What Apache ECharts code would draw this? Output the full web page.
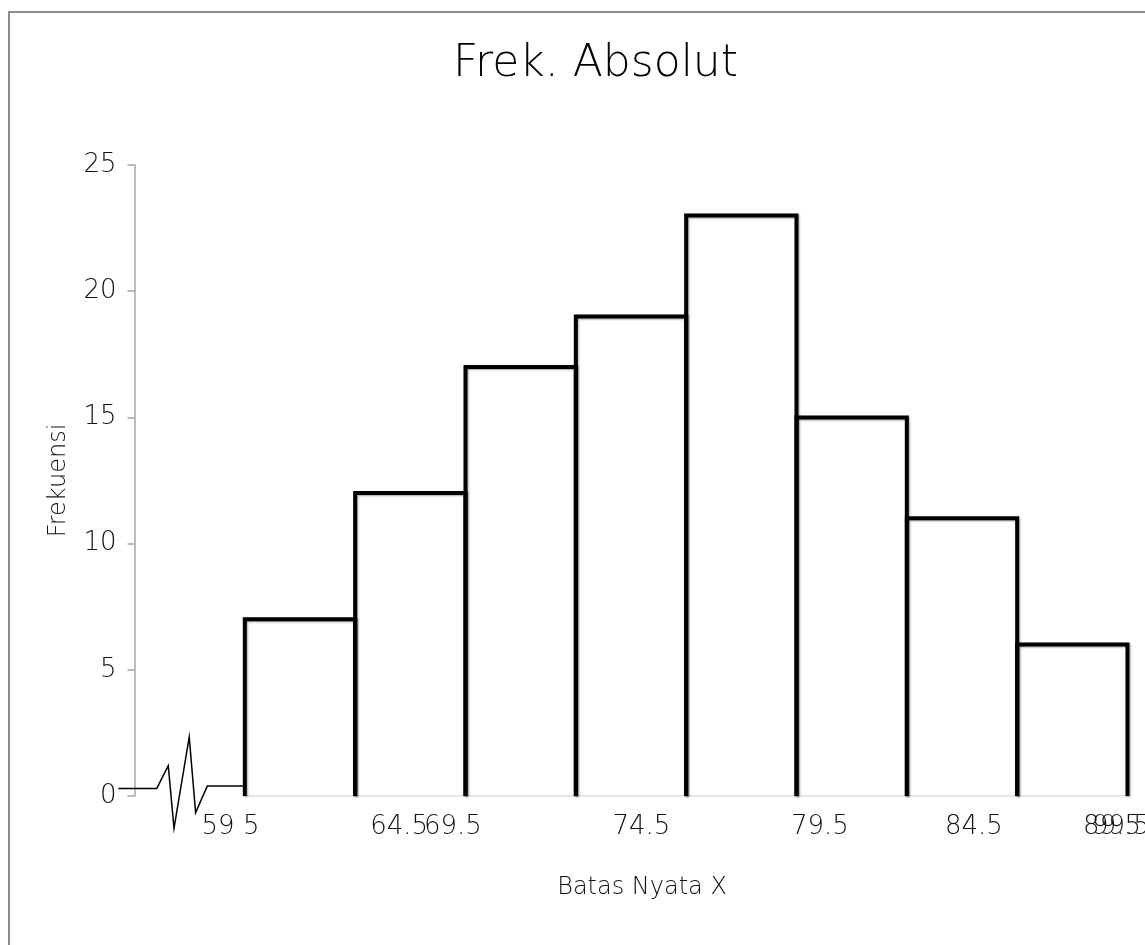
<!DOCTYPE html>
<html>
<head>
<meta charset="utf-8">
<script src="https://cdn.jsdelivr.net/npm/echarts@6.0.0/dist/echarts.min.js"></script>
<style>
  html, body { margin: 0; padding: 0; background: #fff; overflow: hidden; }
  #chart { width: 1145px; height: 945px; }
  #frame { position: absolute; left: 8px; top: 11px; width: 3000px; height: 3000px;
           border-left: 2px solid #8c8c8c; border-top: 2px solid #8c8c8c; pointer-events: none; }
</style>
</head>
<body>
<div id="chart"></div>
<div id="frame"></div>
<script>
// class boundaries (batas nyata) and absolute frequency per class
const edges = [59.5, 64.5, 69.5, 74.5, 79.5, 84.5, 89.5, 94.5, 99.5];
const freqs = [7, 12, 17, 19, 23, 15, 11, 6];

// x tick labels as they appear, and where they sit on the x scale
const tickLabels = ['59 5', '64.5', '69.5', '74.5', '79.5', '84.5', '89.5', '99.5'];
const labelAt = [58.85, 66.49, 68.93, 77.47, 85.56, 92.54, 98.8, 99.2];

// axis break zigzag drawn left of the first class
const breakX = [53.77, 55.51, 56.03, 56.29, 56.98, 57.27, 57.8, 59.43];
const breakY = [0.3, 0.3, 1.2, -1.28, 2.34, -0.66, 0.4, 0.4];

const font = 'DejaVu Sans';
const bins = freqs.map((f, i) => [edges[i], edges[i + 1], f]);
const labelFor = (v) => {
  let best = 0;
  labelAt.forEach((p, i) => { if (Math.abs(p - v) < Math.abs(labelAt[best] - v)) best = i; });
  return tickLabels[best];
};
const tickText = { margin: 18, fontFamily: font, fontWeight: 200, fontSize: 26, color: '#111' };

// the last label overlaps the one before it, so it gets its own (twin) axis
const xBase = {
  type: 'value',
  min: 54.5,
  max: 100.5,
  offset: 0,
  axisLine: { show: false },
  axisTick: { show: false },
  splitLine: { show: false }
};

const chart = echarts.init(document.getElementById('chart'));

chart.setOption({
  animation: false,
  title: {
    text: 'Frek. Absolut',
    left: 448,
    top: 38,
    textStyle: { fontFamily: font, fontWeight: 200, fontSize: 44, color: '#000' }
  },
  grid: { left: 134.5, right: -4.57, top: 165, bottom: 149, outerBoundsMode: 'none' },
  xAxis: [
    Object.assign({}, xBase, {
      name: 'Batas Nyata X',
      nameLocation: 'middle',
      nameGap: 80,
      nameTextStyle: { fontFamily: font, fontWeight: 200, fontSize: 24, color: '#111' },
      axisLabel: Object.assign({
        customValues: labelAt.slice(0, -1),
        hideOverlap: false, showMinLabel: true, showMaxLabel: true,
        formatter: labelFor
      }, tickText)
    }),
    Object.assign({}, xBase, {
      position: 'bottom',
      axisLabel: Object.assign({
        customValues: labelAt.slice(-1),
        hideOverlap: false, showMinLabel: true, showMaxLabel: true,
        formatter: labelFor
      }, tickText)
    })
  ],
  yAxis: {
    type: 'value',
    min: 0,
    max: 25,
    interval: 5,
    name: 'Frekuensi',
    nameLocation: 'middle',
    nameGap: 64,
    nameTextStyle: { fontFamily: font, fontWeight: 200, fontSize: 24, color: '#111' },
    axisLine: { show: true, lineStyle: { color: '#a6a6a6', width: 1.5 } },
    axisTick: { show: true, length: 7, lineStyle: { color: '#a6a6a6', width: 1.5 } },
    splitLine: { show: false },
    axisLabel: tickText
  },
  series: [
    {
      type: 'line',
      data: [[edges[0], 0], [edges[edges.length - 1], 0]],
      symbol: 'none',
      lineStyle: { color: '#d9d9d9', width: 1.5 },
      z: 1
    },
    {
      // break symbol, drawn once from the whole path
      type: 'custom',
      data: [[breakX[0], breakY[0]]],
      clip: false,
      z: 3,
      renderItem: (params, api) => ({
        type: 'polyline',
        shape: { points: breakX.map((x, i) => api.coord([x, breakY[i]])) },
        style: { fill: null, stroke: '#000', lineWidth: 1.5 }
      })
    },
    {
      type: 'custom',
      data: bins,
      encode: { x: [0, 1], y: 2 },
      clip: false,
      z: 2,
      renderItem: (params, api) => {
        const x0 = api.value(0), x1 = api.value(1), v = api.value(2);
        return {
          type: 'polyline',
          shape: { points: [api.coord([x0, 0]), api.coord([x0, v]), api.coord([x1, v]), api.coord([x1, 0])] },
          style: {
            fill: null, stroke: '#000', lineWidth: 4,
            shadowBlur: 2, shadowOffsetX: 1, shadowOffsetY: 1, shadowColor: 'rgba(0,0,0,0.35)'
          }
        };
      }
    }
  ]
});
</script>
</body>
</html>
